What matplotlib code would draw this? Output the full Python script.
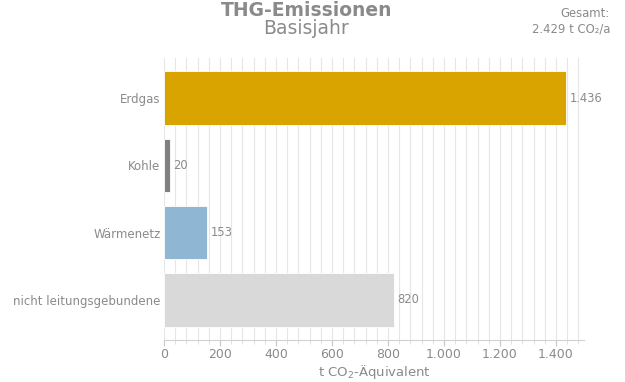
import matplotlib

matplotlib.use("Agg", force=True)

import matplotlib.pyplot as plt
from matplotlib.ticker import FuncFormatter, MultipleLocator

categories = ["Erdgas", "Kohle", "Wärmenetz", "nicht leitungsgebundene"]
values = [1436, 20, 153, 820]
colors = ["#D9A300", "#808080", "#8FB7D3", "#D9D9D9"]
total = 2429

TXT = "#8a8a8a"


def de_num(v, pos=None):
    return f"{int(round(v)):,}".replace(",", ".")


fig = plt.figure(figsize=(6.25, 3.82), dpi=100)
ax = fig.add_axes([0.2624, 0.110, 0.672, 0.738])

ypos = list(range(len(categories)))
ax.barh(ypos, values, height=0.8, color=colors, edgecolor="white",
        linewidth=0.6, zorder=3)
for y, v in zip(ypos, values):
    ax.text(v + 14, y, de_num(v), va="center", ha="left",
            fontsize=8.3, color=TXT)

ax.set_xlim(0, 1500)
ax.set_ylim(len(categories) - 0.4, -0.6)
ax.set_yticks(ypos)
ax.set_yticklabels(categories)

ax.xaxis.set_major_locator(MultipleLocator(200))
ax.xaxis.set_minor_locator(MultipleLocator(40))
ax.xaxis.set_major_formatter(FuncFormatter(de_num))
ax.grid(axis="x", which="both", color="#e6e6e6", linewidth=0.8, zorder=0)

for s in ["top", "right", "left"]:
    ax.spines[s].set_visible(False)
ax.spines["bottom"].set_color("#d0d0d0")
ax.tick_params(axis="y", length=0, labelsize=8.5, labelcolor=TXT, pad=2.5)
ax.tick_params(axis="x", which="major", length=4, color="#c8c8c8",
               labelsize=9, labelcolor=TXT, pad=1.5)
ax.tick_params(axis="x", which="minor", length=3, color="#d8d8d8")

ax.set_xlabel("t CO$_2$-Äquivalent", fontsize=9.5, color=TXT, labelpad=2)

fig.text(0.49, 0.972, "THG-Emissionen", ha="center", va="center",
         fontsize=13.5, fontweight="bold", color=TXT)
fig.text(0.49, 0.925, "Basisjahr", ha="center", va="center",
         fontsize=13.5, color=TXT)
fig.text(0.976, 0.944, f"Gesamt:\n{de_num(total)} t CO₂/a", ha="right",
         va="center", fontsize=8.4, color=TXT, linespacing=1.3)

fig.savefig("out.png", dpi=100)
plt.close(fig)
